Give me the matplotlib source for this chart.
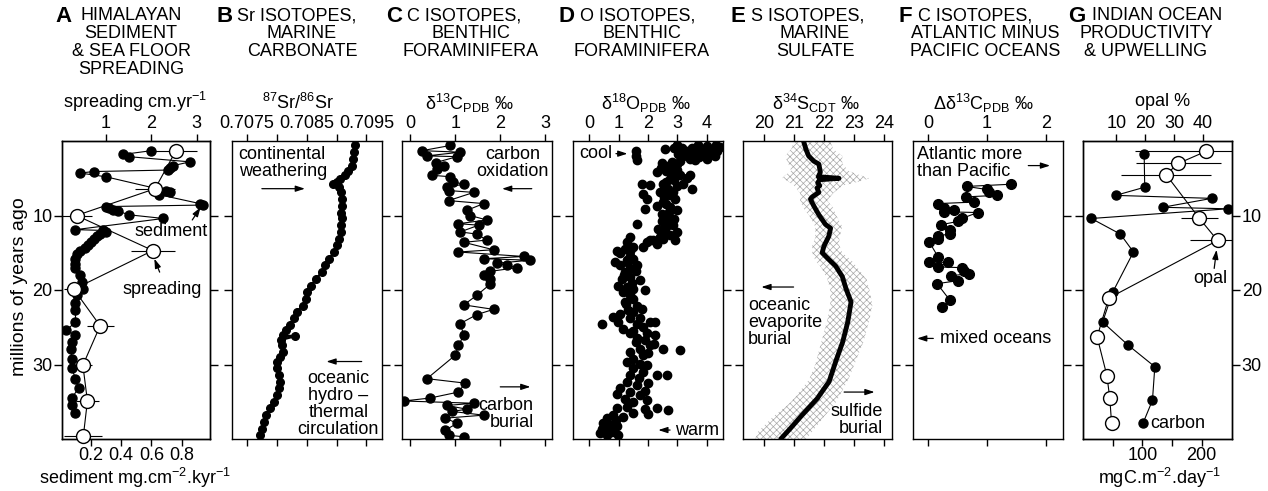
import matplotlib
matplotlib.use('Agg')
import matplotlib.pyplot as plt

plt.rcParams['font.family'] = ['Liberation Sans', 'DejaVu Sans']
plt.rcParams['mathtext.fontset'] = 'custom'
plt.rcParams['mathtext.rm'] = 'Liberation Sans'
plt.rcParams['mathtext.it'] = 'Liberation Sans:italic'
plt.rcParams['mathtext.bf'] = 'Liberation Sans:bold'
plt.rcParams['hatch.linewidth'] = 0.5
plt.rcParams['axes.linewidth'] = 1.0

# ---------------- data ----------------
# A: Himalayan sediment (age Ma, mg/cm2/kyr)
sed_age = [1.3, 1.8, 2.1, 2.8, 3.3, 3.6, 3.9, 4.1, 4.3, 4.8, 6.7, 6.9, 7.2, 8.4, 8.6, 8.8, 9.0,
           9.2, 9.4, 9.9, 10.4, 11.9, 12.0, 12.2, 12.5, 12.8, 13.2, 13.6, 14.0, 14.4, 14.8, 15.2,
           15.8, 16.5, 17.1, 18.0, 18.9, 19.8, 20.7, 21.8, 22.7, 24.3, 25.4, 26.1, 27.0, 27.9,
           29.2, 30.5, 31.9, 33.2, 34.5, 35.4, 36.5]
sed_val = [0.60, 0.415, 0.45, 0.855, 0.745, 0.725, 0.71, 0.22, 0.13, 0.30, 0.70, 0.72, 0.65,
           0.92, 0.94, 0.30, 0.32, 0.35, 0.38, 0.45, 0.68, 0.10, 0.28, 0.30, 0.26, 0.24, 0.22,
           0.20, 0.18, 0.16, 0.13, 0.11, 0.10, 0.10, 0.10, 0.13, 0.14, 0.15, 0.11, 0.10, 0.10,
           0.10, 0.04, 0.10, 0.08, 0.07, 0.075, 0.075, 0.10, 0.12, 0.075, 0.08, 0.10]
# A: sea-floor spreading (age, cm/yr, error)
spr_age = [1.3, 6.4, 10.0, 14.7, 19.9, 24.8, 30.1, 34.9, 39.6]
spr_val = [2.54, 2.08, 0.35, 2.03, 0.29, 0.87, 0.49, 0.59, 0.50]
spr_err = [0.46, 0.44, 0.33, 0.48, 0.22, 0.30, 0.20, 0.26, 0.42]

# B: 87Sr/86Sr
sr_age = [0.6, 1.5, 2.4, 3.3, 4.0, 4.6, 5.1, 5.5, 5.8, 6.2, 6.9, 7.8, 8.7, 9.6, 10.4, 11.3, 12.2,
          13.1, 14.0, 14.9, 15.8, 16.7, 17.6, 18.5, 19.4, 20.3, 21.2, 22.1, 22.9, 23.8, 24.7,
          25.4, 26.1, 26.2, 26.7, 27.4, 28.3, 29.0, 29.6, 30.5, 31.4, 32.3, 33.2, 34.1, 35.0,
          35.9, 36.8, 37.7, 38.6, 39.5]
sr_val = [0.70931, 0.70929, 0.70928, 0.70925, 0.70919, 0.70914, 0.70906, 0.70900, 0.70894,
          0.70904, 0.70908, 0.70909, 0.70909, 0.70908, 0.70909, 0.70908, 0.70907, 0.70904,
          0.70901, 0.70896, 0.70888, 0.70881, 0.70875, 0.70866, 0.70857, 0.70850, 0.70848,
          0.70843, 0.70834, 0.70828, 0.70822, 0.70816, 0.70811, 0.70831, 0.70807, 0.70808,
          0.70811, 0.70806, 0.70800, 0.70801, 0.70804, 0.70806, 0.70804, 0.70801, 0.70796,
          0.70788, 0.70782, 0.70779, 0.70775, 0.70772]

# C: benthic d13C
c13_age = [0.6, 1.3, 1.5, 2.0, 2.1, 2.9, 3.3, 3.75, 4.6, 4.8, 5.5, 5.8, 6.2, 6.65, 6.9, 8.0, 8.4,
           9.3, 10.0, 10.6, 11.1, 11.3, 12.2, 12.5, 13.3, 13.6, 14.6, 14.9, 15.5, 15.8, 16.0,
           16.4, 16.7, 17.0, 17.5, 18.0, 18.5, 19.2, 20.7, 22.0, 22.6, 23.3, 24.5, 26.1, 27.4,
           28.75, 31.9, 32.5, 33.7, 34.5, 34.9, 35.2, 35.5, 36.0, 36.3, 36.8, 37.2, 37.9, 38.8,
           39.5, 39.7]
c13_val = [0.89, 0.26, 1.11, 0.37, 1.04, 0.56, 0.74, 0.59, 0.48, 0.89, 0.96, 1.19, 0.81, 0.85,
           1.41, 0.85, 1.63, 1.26, 1.33, 1.70, 1.07, 1.52, 1.11, 1.48, 1.70, 1.19, 1.85, 1.07,
           2.52, 1.63, 2.67, 1.93, 2.15, 2.37, 1.78, 1.63, 1.78, 1.78, 1.48, 1.19, 1.85, 1.48,
           1.11, 1.19, 1.07, 1.00, 0.37, 1.22, 1.07, 0.44, -0.15, 1.41, 0.81, 1.26, 0.93, 1.63,
           0.78, 1.04, 0.78, 0.85, 1.19]

# D: benthic d18O (scatter)
o18_age = [1.1, 0.6, 1.3, 1.1, 1.3, 1.1, 1.3, 0.85, 1.7, 2.0, 2.4, 2.2, 2.4, 2.0, 3.1, 3.3, 2.9,
           0.6, 0.7, 0.9, 1.6, 1.5, 1.8, 0.5, 1.9, 2.7, 2.6, 1.0, 0.9, 2.8,
           1.3, 1.96, 2.6,
           3.3, 3.75, 4.2, 4.6, 4.9, 4.6, 5.1, 5.8, 6.0, 5.8, 4.2, 6.4, 6.4, 5.9, 5.8, 7.1, 3.6,
           4.0, 4.4, 5.3, 5.5, 3.9,
           6.9, 7.3, 7.8, 8.2, 8.7, 8.9, 9.3, 9.8, 7.8, 9.1, 10.4, 7.0, 7.5, 8.5, 9.5, 6.8,
           10.7, 10.9, 11.8, 12.2, 11.3, 12.2, 11.1, 13.1, 13.3, 13.3, 10.5, 11.5, 12.6, 12.9,
           12.9, 13.6, 13.6, 13.3, 14.2, 14.5, 14.7, 13.8, 14.2, 14.7, 15.1, 15.4,
           16.25, 16.7, 16.0, 15.8, 16.7, 17.1, 17.6, 18.5, 18.3, 18.7, 19.4, 19.6, 19.8, 20.0,
           20.3, 20.7, 16.3, 17.5, 18.0, 19.0,
           21.2, 21.6, 22.1, 22.7, 23.2, 23.6, 23.8, 23.8, 24.5, 24.3, 24.5, 24.3, 24.3, 25.2,
           25.0, 25.8, 25.8, 26.1, 26.5, 26.7, 21.9, 22.5, 23.0, 25.5,
           27.9, 28.1, 27.4, 27.9, 28.3, 28.75, 29.2, 29.6, 29.9, 30.1, 30.5, 27.0, 27.2, 28.5,
           31.0, 31.4, 31.4, 31.4, 32.3, 32.8, 33.2, 33.9, 33.7, 34.6, 34.1, 35.0, 34.8, 31.8,
           32.5, 33.5,
           35.9, 36.1, 35.7, 35.9, 36.8, 37.2, 37.0, 37.9, 38.1, 38.8, 38.6, 39.5, 39.5, 39.0,
           39.2, 36.5, 36.0, 37.5, 38.3, 36.6]
o18_val = [2.58, 2.98, 3.32, 3.66, 3.89, 4.17, 4.34, 4.45, 3.03, 4.28, 4.00, 3.72, 3.43, 3.20,
           2.98, 2.69, 2.47, 3.70, 4.00, 3.50, 3.55, 3.95, 4.10, 4.30, 3.30, 3.10, 3.60, 3.15,
           2.90, 2.80,
           1.59, 1.59, 1.64,
           2.52, 2.75, 2.92, 3.09, 3.32, 3.43, 2.75, 2.52, 2.98, 3.20, 2.30, 3.49, 2.69, 2.07,
           1.78, 1.84, 2.45, 2.60, 2.80, 2.90, 2.60, 3.00,
           2.41, 2.75, 2.92, 2.52, 2.30, 2.75, 2.98, 2.47, 1.95, 1.90, 2.64, 2.60, 2.55, 2.60,
           2.70, 2.85,
           2.47, 2.75, 2.35, 2.58, 2.86, 2.98, 1.61, 2.52, 2.07, 2.92, 2.90, 2.60, 2.75, 2.40,
           1.39, 1.27, 1.95, 2.18, 1.84, 1.22, 0.93, 2.30, 1.50, 1.40, 1.05, 1.39,
           0.88, 1.05, 1.27, 1.50, 1.61, 1.39, 1.22, 1.10, 1.39, 1.73, 0.99, 1.27, 1.50, 1.90,
           1.16, 1.39, 1.30, 1.60, 1.20, 1.45,
           1.50, 1.22, 1.61, 1.33, 1.05, 0.82, 1.39, 1.73, 0.42, 0.99, 1.61, 2.07, 2.24, 1.16,
           1.84, 1.39, 1.95, 2.24, 1.61, 1.90, 1.25, 1.80, 1.50, 1.50,
           2.52, 3.09, 2.07, 1.73, 1.39, 1.84, 1.50, 1.27, 1.73, 1.95, 1.50, 1.60, 2.20, 2.00,
           1.84, 1.39, 2.30, 2.64, 1.27, 1.61, 1.05, 0.93, 1.39, 1.22, 1.73, 1.50, 1.95, 1.70,
           2.00, 1.90,
           2.30, 2.69, 1.27, 0.93, 0.82, 0.59, 1.16, 0.48, 0.70, 0.53, 0.42, 0.61, 0.99, 0.76,
           0.36, 1.50, 1.90, 0.90, 0.95, 2.00]

# E: marine sulfate d34S curve and uncertainty band
s34_age = [0.0, 1.1, 2.0, 2.7, 3.1, 4.2, 4.8, 5.0, 5.2, 5.6, 6.0, 6.3, 6.9, 7.5, 7.8, 8.3, 8.7,
           9.9, 11.2, 11.7, 12.8, 14.1, 15.0, 15.7, 16.8, 18.2, 19.8, 21.6, 24.3, 27.0, 29.6,
           32.3, 34.6, 36.8, 38.6, 40.1]
s34_val = [21.31, 21.39, 21.48, 21.65, 21.82, 21.87, 21.80, 22.49, 21.85, 21.78, 21.85, 21.76,
           21.82, 21.60, 21.54, 21.60, 21.65, 21.82, 22.04, 22.21, 22.15, 21.99, 21.93, 22.10,
           22.38, 22.60, 22.72, 22.89, 22.78, 22.61, 22.38, 22.16, 21.76, 21.26, 20.87, 20.53]
band_age = [0.0, 1.1, 2.0, 3.0, 4.0, 4.6, 5.0, 5.4, 6.0, 7.0, 8.0, 9.0, 10.0, 11.5, 13.0, 14.0,
            15.0, 16.0, 17.0, 18.5, 20.0, 22.0, 24.0, 27.0, 30.0, 32.0, 35.0, 37.0, 39.0, 40.0]
band_lo = [21.0, 20.9, 20.7, 20.8, 20.9, 20.7, 20.6, 20.8, 21.0, 21.2, 21.2, 21.3, 21.5, 21.7,
           21.7, 21.6, 21.6, 21.7, 21.9, 22.1, 22.2, 22.2, 22.1, 21.9, 21.7, 21.5, 20.9, 20.3,
           19.8, 19.7]
band_hi = [22.2, 22.3, 22.6, 22.6, 22.8, 23.2, 23.5, 23.2, 22.6, 22.3, 22.1, 22.3, 22.4, 22.6,
           22.5, 22.5, 22.6, 22.9, 23.1, 23.4, 23.5, 23.6, 23.5, 23.3, 23.0, 22.8, 22.4, 22.0,
           21.6, 21.4]

# F: Atlantic minus Pacific d13C
f_age = [5.8, 6.1, 6.5, 6.9, 7.3, 7.5, 8.2, 8.4, 9.0, 9.3, 9.5, 9.6, 10.4, 10.8, 11.25, 11.9,
         12.5, 12.7, 13.1, 13.6, 15.6, 16.25, 16.3, 16.9, 17.0, 17.4, 17.8, 18.1, 18.75, 19.15,
         21.4, 22.3]
f_val = [1.41, 0.65, 0.99, 1.04, 1.16, 0.64, 0.78, 0.17, 0.26, 0.43, 0.26, 0.84, 0.57, 0.50,
         0.21, 0.37, 0.37, 0.17, 0.17, 0.02, 0.17, 0.02, 0.34, 0.17, 0.57, 0.61, 0.70, 0.38,
         0.50, 0.15, 0.37, 0.23]

# G: Indian Ocean productivity (carbon) and opal
carb_age = [1.7, 6.2, 7.3, 7.7, 8.9, 9.1, 10.4, 12.5, 14.9, 20.3, 24.3, 27.4, 30.3, 34.8, 37.9]
carb_val = [103, 104, 55, 217, 134, 244, 14, 63, 85, 50, 33, 76, 121, 117, 101]
opal_age = [1.4, 3.0, 4.5, 10.4, 13.35, 21.1, 26.3, 31.5, 34.55, 37.8]
opal_val = [41.0, 31.5, 27.2, 38.8, 45.1, 7.3, 3.3, 6.7, 7.7, 8.3]
opal_err = [24.6, 14.8, 15.7, 6.4, 9.5, 2.0, 2.5, 2.0, 2.2, 1.8]

age_ticks = [10, 20, 30]

# ---------------- layout ----------------
W, H = 1268, 491
fig = plt.figure(figsize=(W / 100, H / 100), dpi=100)
TOP, BOT = 141, 439
FS = 13
PERMIL = '\u2030'


def rect(x0, x1):
    return [x0 / W, 1 - BOT / H, (x1 - x0) / W, (BOT - TOP) / H]


def fx(px):
    return px / W


def fy(py):
    return 1 - py / H


def base(ax, left_lab=False, right_lab=False):
    ax.set_ylim(40, 0)
    ax.set_yticks(age_ticks)
    ax.tick_params(axis='y', which='both', direction='out', length=6, width=1,
                   left=True, right=True, labelleft=left_lab, labelright=right_lab,
                   labelsize=FS, pad=1)


def topaxis(ax):
    ax.tick_params(axis='x', which='both', direction='out', length=5, width=1, top=True,
                   bottom=True, labeltop=True, labelbottom=False, labelsize=FS, pad=1.5)


def arrow(ax, x0, y0, x1, y1):
    ax.annotate('', xy=(x1, y1), xytext=(x0, y0),
                arrowprops=dict(arrowstyle='-|>,head_length=0.55,head_width=0.18',
                                lw=0.9, color='k', shrinkA=0, shrinkB=0))


panels = [(62, 210), (232, 382), (402, 552), (573, 723), (743, 892), (913, 1063), (1083, 1232)]

# ---- A ----
axA = fig.add_axes(rect(*panels[0]))
base(axA, left_lab=True)
axA.set_xlim(0.011, 0.987)
axA.set_xticks([0.2, 0.4, 0.6, 0.8])
axA.set_xticklabels(['0.2', '0.4', '0.6', '0.8'])
axA.tick_params(axis='x', direction='out', length=5, width=1, top=False, bottom=True,
                labelbottom=True, labelsize=FS, pad=1)
axA.plot(sed_val, sed_age, '-o', color='k', ms=6.5, lw=0.8, zorder=3)
axA.text(0.73, 12.1, 'sediment', fontsize=FS, ha='center', va='center')
arrow(axA, 0.87, 10.6, 0.925, 8.9)
axA.text(0.67, 19.9, 'spreading', fontsize=FS, ha='center', va='center')
arrow(axA, 0.655, 17.6, 0.62, 15.8)
axA2 = axA.twiny()
axA2.set_xlim(0.03, 3.29)
axA2.set_xticks([1, 2, 3])
axA2.tick_params(axis='x', direction='out', length=5, width=1, labelsize=FS, pad=1.5)
axA2.errorbar(spr_val, spr_age, xerr=spr_err, fmt='none', ecolor='k', elinewidth=0.8,
              capsize=0, zorder=2)
axA2.plot(spr_val, spr_age, '-o', color='k', mfc='white', mec='k', mew=1.0, ms=10, lw=0.8,
          zorder=4, clip_on=False)
axA2.set_ylim(40, 0)

# ---- B ----
axB = fig.add_axes(rect(*panels[1]))
base(axB)
topaxis(axB)
axB.set_xlim(0.70725, 0.70976)
axB.set_xticks([0.7075, 0.7085, 0.7095])
axB.set_xticklabels(['0.7075', '0.7085', '0.7095'])
axB.set_xticks([0.7080, 0.7090], minor=True)
axB.plot(sr_val, sr_age, '-o', color='k', ms=5.5, lw=1.6)
axB.text(0.70736, 2.9, 'continental\nweathering', fontsize=FS, ha='left', va='center',
         linespacing=1.0)
arrow(axB, 0.70775, 6.4, 0.70847, 6.4)
axB.text(0.70903, 35.3, 'oceanic\nhydro \u2013\nthermal\ncirculation', fontsize=FS,
         ha='center', va='center', linespacing=1.0)
arrow(axB, 0.70942, 29.6, 0.70883, 29.6)

# ---- C ----
axC = fig.add_axes(rect(*panels[2]))
base(axC)
topaxis(axC)
axC.set_xlim(-0.185, 3.15)
axC.set_xticks([0, 1, 2, 3])
axC.plot(c13_val, c13_age, '-o', color='k', ms=6.5, lw=0.8)
axC.text(2.27, 3.0, 'carbon\noxidation', fontsize=FS, ha='center', va='center',
         linespacing=1.0)
arrow(axC, 2.70, 6.4, 2.04, 6.4)
axC.text(2.74, 36.6, 'carbon\nburial', fontsize=FS, ha='right', va='center', linespacing=1.0,
         multialignment='right')
arrow(axC, 2.0, 33.0, 2.67, 33.0)

# ---- D ----
axD = fig.add_axes(rect(*panels[3]))
base(axD)
topaxis(axD)
axD.set_xlim(-0.55, 4.55)
axD.set_xticks([0, 1, 2, 3, 4])
axD.plot(o18_val, o18_age, 'o', color='k', ms=6, lw=0)
axD.text(-0.34, 1.7, 'cool', fontsize=FS, ha='left', va='center')
arrow(axD, 0.91, 1.7, 1.30, 1.7)
axD.text(4.40, 38.8, 'warm', fontsize=FS, ha='right', va='center')
arrow(axD, 2.75, 38.8, 2.35, 38.8)

# ---- E ----
axE = fig.add_axes(rect(*panels[4]))
base(axE)
topaxis(axE)
axE.set_xlim(19.3, 24.25)
axE.set_xticks([20, 21, 22, 23, 24])
axE.fill_betweenx(band_age, band_lo, band_hi, facecolor='none', edgecolor='#a8a8a8',
                  hatch='xxxxx', lw=0)
axE.plot(s34_val, s34_age, '-', color='k', lw=3.5, solid_capstyle='butt')
axE.text(19.46, 24.3, 'oceanic\nevaporite\nburial', fontsize=FS, ha='left', va='center',
         linespacing=1.0)
arrow(axE, 20.98, 19.6, 19.91, 19.6)
axE.text(23.96, 37.5, 'sulfide\nburial', fontsize=FS, ha='right', va='center', linespacing=1.0,
         multialignment='right')
arrow(axE, 22.66, 33.7, 23.67, 33.7)

# ---- F ----
axF = fig.add_axes(rect(*panels[5]))
base(axF)
topaxis(axF)
axF.set_xlim(-0.26, 2.29)
axF.set_xticks([0, 1, 2])
axF.plot(f_val, f_age, '-o', color='k', ms=7, lw=0.8)
axF.text(-0.2, 3.0, 'Atlantic more\nthan Pacific', fontsize=FS, ha='left', va='center',
         linespacing=1.0)
arrow(axF, 1.70, 3.3, 2.07, 3.3)
arrow(axF, 0.085, 26.5, -0.19, 26.5)
axF.text(0.2, 26.5, 'mixed oceans', fontsize=FS, ha='left', va='center')

# ---- G ----
axG = fig.add_axes(rect(*panels[6]))
base(axG, right_lab=True)
axG.set_xlim(0, 251)
axG.set_xticks([100, 200])
axG.set_xticks([50, 150], minor=True)
axG.tick_params(axis='x', which='both', direction='out', length=5, width=1, top=False,
                bottom=True, labelbottom=True, labelsize=FS, pad=1)
axG.plot(carb_val, carb_age, '-o', color='k', ms=6.5, lw=0.8, zorder=3)
axG.text(113, 37.9, 'carbon', fontsize=FS, ha='left', va='center')
axG.text(214, 18.5, 'opal', fontsize=FS, ha='center', va='center')
arrow(axG, 221, 17.1, 225, 14.6)
axG2 = axG.twiny()
axG2.set_xlim(-1.6, 50.1)
axG2.set_xticks([10, 20, 30, 40])
axG2.tick_params(axis='x', direction='out', length=5, width=1, labelsize=FS, pad=1.5)
axG2.errorbar(opal_val, opal_age, xerr=opal_err, fmt='none', ecolor='k', elinewidth=0.8,
              capsize=0, zorder=2)
axG2.plot(opal_val, opal_age, '-o', color='k', mfc='white', mec='k', mew=1.0, ms=10, lw=0.8,
          zorder=4)
axG2.set_ylim(40, 0)

# ---------------- axis labels ----------------
AXL_Y_A = 102
AXL_Y = 103
fig.text(fx(135), fy(AXL_Y_A), r'spreading cm.yr$^{\mathregular{-1}}$', fontsize=FS,
         ha='center', va='center')
fig.text(fx(135), fy(478), r'sediment mg.cm$^{\mathregular{-2}}$.kyr$^{\mathregular{-1}}$',
         fontsize=FS, ha='center', va='center')
fig.text(fx(298), fy(AXL_Y), r'$^{\mathregular{87}}$Sr/$^{\mathregular{86}}$Sr', fontsize=FS,
         ha='center', va='center')
fig.text(fx(469), fy(AXL_Y), '\u03b4' + r'$^{\mathregular{13}}$C$_{\mathregular{PDB}}$ ' + PERMIL,
         fontsize=FS, ha='center', va='center')
fig.text(fx(646), fy(AXL_Y), '\u03b4' + r'$^{\mathregular{18}}$O$_{\mathregular{PDB}}$ ' + PERMIL,
         fontsize=FS, ha='center', va='center')
fig.text(fx(816), fy(AXL_Y), '\u03b4' + r'$^{\mathregular{34}}$S$_{\mathregular{CDT}}$ ' + PERMIL,
         fontsize=FS, ha='center', va='center')
fig.text(fx(983), fy(AXL_Y),
         '\u0394\u03b4' + r'$^{\mathregular{13}}$C$_{\mathregular{PDB}}$ ' + PERMIL,
         fontsize=FS, ha='center', va='center')
fig.text(fx(1163), fy(AXL_Y_A), 'opal %', fontsize=FS, ha='center', va='center')
fig.text(fx(1160), fy(478), r'mgC.m$^{\mathregular{-2}}$.day$^{\mathregular{-1}}$', fontsize=FS,
         ha='center', va='center')
fig.text(fx(20), fy(287), 'millions of years ago', fontsize=14, rotation=90, ha='center',
         va='center')

# ---------------- titles ----------------
ROWS = [16, 34, 52, 70]
titles = [
    ('A', 55, 80, 131, ['HIMALAYAN', 'SEDIMENT', '& SEA FLOOR', 'SPREADING']),
    ('B', 216, 237, 302, ['Sr ISOTOPES,', 'MARINE', 'CARBONATE']),
    ('C', 386, 407, 471, ['C ISOTOPES,', 'BENTHIC', 'FORAMINIFERA']),
    ('D', 558, 580, 642, ['O ISOTOPES,', 'BENTHIC', 'FORAMINIFERA']),
    ('E', 730, 751, 815, ['S ISOTOPES,', 'MARINE', 'SULFATE']),
    ('F', 898, 918, 985, ['C ISOTOPES,', 'ATLANTIC MINUS', 'PACIFIC OCEANS']),
    ('G', 1068, 1092, 1146, ['INDIAN OCEAN', 'PRODUCTIVITY', '& UPWELLING']),
]
for letter, lx, rx, cx, lines in titles:
    fig.text(fx(lx), fy(ROWS[0]), letter, fontsize=16, fontweight='heavy', ha='left',
             va='center')
    if letter == 'A':
        fig.text(fx(cx), fy(ROWS[0]), lines[0], fontsize=FS, ha='center', va='center')
    else:
        fig.text(fx(rx), fy(ROWS[0]), lines[0], fontsize=FS, ha='left', va='center')
    for i, ln in enumerate(lines[1:]):
        fig.text(fx(cx), fy(ROWS[i + 1]), ln, fontsize=FS, ha='center', va='center')

fig.savefig('out.png', dpi=100)
